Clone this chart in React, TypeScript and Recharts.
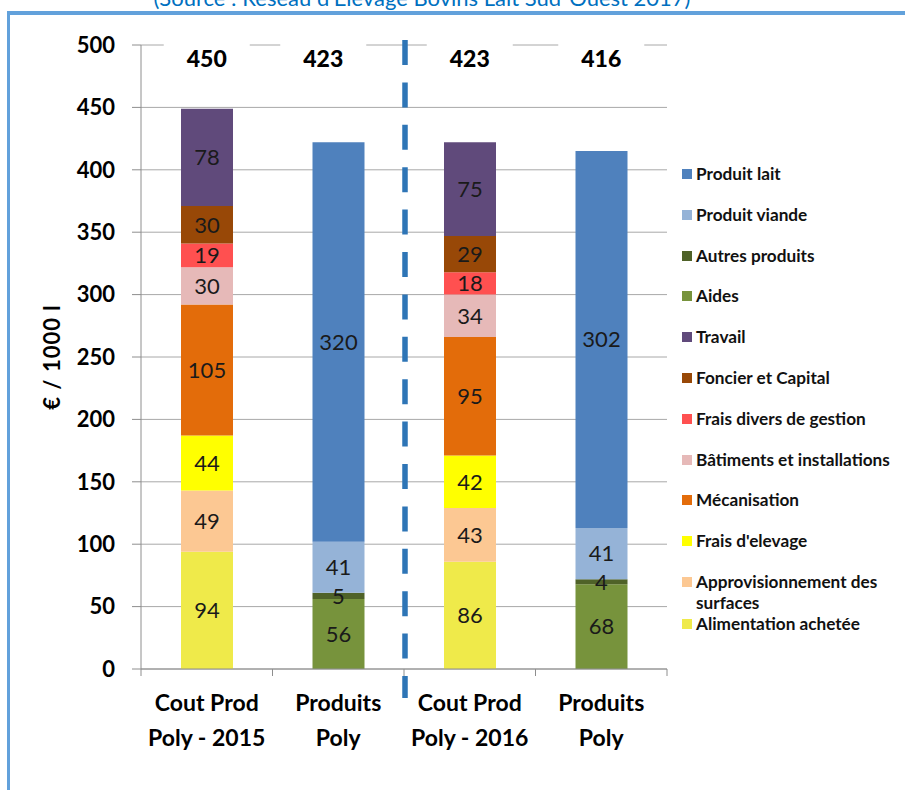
import React from "react";
import { BarChart, Bar, XAxis, YAxis, CartesianGrid, LabelList } from "recharts";

// ---------- data ----------
const categories = ["Cout Prod Poly - 2015", "Produits Poly 2015", "Cout Prod Poly - 2016", "Produits Poly 2016"];
const categoryLine1 = ["Cout Prod", "Produits", "Cout Prod", "Produits"];
const categoryLine2 = ["Poly - 2015", "Poly", "Poly - 2016", "Poly"];
const totals = [450, 423, 423, 416];
const yTicks = [0, 50, 100, 150, 200, 250, 300, 350, 400, 450, 500];

const alimentation = [94, null, 86, null];
const approvisionnement = [49, null, 43, null];
const fraisElevage = [44, null, 42, null];
const mecanisation = [105, null, 95, null];
const batiments = [30, null, 34, null];
const fraisDivers = [19, null, 18, null];
const foncier = [30, null, 29, null];
const travail = [78, null, 75, null];
const aides = [null, 56, null, 68];
const autresProduits = [null, 5, null, 4];
const produitViande = [null, 41, null, 41];
const produitLait = [null, 320, null, 302];

// stacking order, bottom to top
const series = [
  { key: "alimentation", name: "Alimentation achetée", color: "#EFEA4A", values: alimentation },
  { key: "approvisionnement", name: "Approvisionnement des surfaces", color: "#FCC893", values: approvisionnement },
  { key: "fraisElevage", name: "Frais d'elevage", color: "#FFFF00", values: fraisElevage },
  { key: "mecanisation", name: "Mécanisation", color: "#E36C0A", values: mecanisation },
  { key: "batiments", name: "Bâtiments et installations", color: "#E6B9B8", values: batiments },
  { key: "fraisDivers", name: "Frais divers de gestion", color: "#FF5050", values: fraisDivers },
  { key: "foncier", name: "Foncier et Capital", color: "#984807", values: foncier },
  { key: "travail", name: "Travail", color: "#604A7B", values: travail },
  { key: "aides", name: "Aides", color: "#77933C", values: aides },
  { key: "autresProduits", name: "Autres produits", color: "#4F6228", values: autresProduits },
  { key: "produitViande", name: "Produit viande", color: "#95B3D7", values: produitViande },
  { key: "produitLait", name: "Produit lait", color: "#4F81BD", values: produitLait },
];

const legendOrder = [
  "produitLait", "produitViande", "autresProduits", "aides", "travail", "foncier",
  "fraisDivers", "batiments", "mecanisation", "fraisElevage", "approvisionnement", "alimentation",
];

const chartData = categories.map((c, i) => {
  const row: Record<string, any> = { cat: c, total: totals[i] };
  series.forEach((s) => { row[s.key] = s.values[i]; });
  return row;
});

// ---------- layout ----------
const W = 905;
const H = 790;
const PLOT_LEFT = 141;
const PLOT_RIGHT = 667;
const PLOT_TOP = 45;
const PLOT_BOTTOM = 669;
const TOP_AXIS_H = 30;
const PLOT_W = PLOT_RIGHT - PLOT_LEFT;
const BAND = PLOT_W / categories.length;
const FONT = "Lato, 'Open Sans', sans-serif";
const AXIS = "#8E8E8E";
const GRID = "#A8A8A8";

const BottomTick = (props: any) => {
  const { x, y, payload } = props;
  const i = payload.index;
  const left = x - BAND / 2;
  return (
    <g>
      <line x1={left} x2={left} y1={y} y2={y + 7} stroke={AXIS} strokeWidth={1} />
      {i === categories.length - 1 && (
        <line x1={x + BAND / 2} x2={x + BAND / 2} y1={y} y2={y + 7} stroke={AXIS} strokeWidth={1} />
      )}
      <text x={x} y={y} textAnchor="middle" fontFamily={FONT} fontWeight={700} fontSize={23} fill="#000">
        <tspan x={x} dy={42}>{categoryLine1[i]}</tspan>
        <tspan x={x} dy={35}>{categoryLine2[i]}</tspan>
      </text>
    </g>
  );
};

const TopTick = (props: any) => {
  const { x, payload } = props;
  const i = payload.index;
  const base = PLOT_TOP;
  const cx = x + (i === 1 ? -15 : 0);
  return (
    <g>
      <rect x={cx - 43} y={base - 3} width={86} height={32} fill="#fff" />
      <text x={cx} y={base + 14} dy="0.36em" textAnchor="middle" fontFamily={FONT} fontWeight={900} fontSize={23} fill="#000">
        {totals[i]}
      </text>
    </g>
  );
};

const YLabel = (props: any) => {
  const vb = props.viewBox || { x: 0, y: PLOT_TOP, width: PLOT_LEFT, height: PLOT_BOTTOM - PLOT_TOP };
  const cx = vb.x + 52;
  const cy = vb.y + vb.height / 2;
  return (
    <text
      x={cx}
      y={cy}
      dy="0.36em"
      transform={`rotate(-90 ${cx} ${cy})`}
      textAnchor="middle"
      fontFamily={FONT}
      fontWeight={700}
      fontSize={22}
      letterSpacing={1}
      fill="#000"
    >
      € / 1000 l
    </text>
  );
};

const makeLabel = (props: any) => {
  const { x, y, width, height, value } = props;
  if (value === null || value === undefined) return null;
  return (
    <text
      x={x + width / 2}
      y={y + height / 2}
      dy="0.36em"
      textAnchor="middle"
      fontFamily={FONT}
      fontSize={22}
      fill="#1A1A1A"
    >
      {value}
    </text>
  );
};

const LegendBox = () => {
  const byKey: Record<string, any> = {};
  series.forEach((s) => { byKey[s.key] = s; });
  return (
    <div style={{ position: "absolute", left: 0, top: 0, width: W, height: H, pointerEvents: "none" }}>
      {legendOrder.map((k, i) => {
        const s = byKey[k];
        const cy = 174 + i * 40.8 + (k === "alimentation" ? 1 : 0);
        const lines = k === "approvisionnement" ? ["Approvisionnement des", "surfaces"] : [s.name];
        return (
          <div key={k}>
            <div style={{ position: "absolute", left: 682, top: cy - 5, width: 10, height: 10, background: s.color }} />
            {lines.map((l, j) => (
              <div
                key={j}
                style={{
                  position: "absolute",
                  left: 696,
                  top: cy - 9 + j * 21,
                  fontFamily: FONT,
                  fontWeight: 700,
                  fontSize: 17.2,
                  lineHeight: "18px",
                  height: 18,
                  color: "#111",
                  whiteSpace: "nowrap",
                }}
              >
                {l}
              </div>
            ))}
          </div>
        );
      })}
    </div>
  );
};

export default function App() {
  return (
    <div style={{ position: "absolute", left: 0, top: 0, width: W, height: H, overflow: "hidden", background: "#fff" }}>
      <div
        style={{
          position: "absolute",
          left: 7,
          top: 11,
          width: 1200,
          height: 1200,
          borderTop: "4px solid #62A1DB",
          borderLeft: "3px solid #62A1DB",
        }}
      />
      <svg style={{ position: "absolute", left: 0, top: 0 }} width={W} height={30}>
        <text x={422} y={6} textAnchor="middle" fontFamily={FONT} fontSize={22} fill="#0070C0">
          (Source : Réseau d'Elevage Bovins Lait Sud-Ouest 2017)
        </text>
      </svg>
      <div style={{ position: "absolute", left: 0, top: 0 }}>
        <BarChart
          width={W}
          height={H}
          data={chartData}
          margin={{ top: PLOT_TOP - TOP_AXIS_H, right: W - PLOT_RIGHT, bottom: 0, left: 0 }}
          barSize={52}
          style={{ fontFamily: FONT }}
        >
          <CartesianGrid horizontal vertical={false} stroke={GRID} strokeWidth={1} />
          <XAxis
            dataKey="cat"
            xAxisId={0}
            height={H - PLOT_BOTTOM}
            axisLine={{ stroke: AXIS }}
            tickLine={false}
            tickSize={0}
            tickMargin={0}
            interval={0}
            tick={<BottomTick />}
          />
          <YAxis
            width={PLOT_LEFT}
            domain={[0, 500]}
            ticks={yTicks}
            interval={0}
            axisLine={{ stroke: AXIS }}
            tickLine={{ stroke: AXIS }}
            tickSize={9}
            tickMargin={17}
            tick={{ fontFamily: FONT, fontWeight: 700, fontSize: 22, fill: "#000" }}
            label={<YLabel />}
          />
          {series.map((s) => (
            <Bar key={s.key} dataKey={s.key} name={s.name} stackId="a" fill={s.color} isAnimationActive={false}>
              <LabelList dataKey={s.key} content={makeLabel} />
            </Bar>
          ))}
          <XAxis
            dataKey="cat"
            xAxisId="top"
            orientation="top"
            height={TOP_AXIS_H}
            axisLine={false}
            tickLine={false}
            tickSize={0}
            tickMargin={0}
            interval={0}
            tick={<TopTick />}
          />
        </BarChart>
      </div>
      <svg style={{ position: "absolute", left: 0, top: 0, pointerEvents: "none" }} width={W} height={H}>
        <line
          x1={PLOT_LEFT + PLOT_W / 2 + 1}
          x2={PLOT_LEFT + PLOT_W / 2 + 1}
          y1={40}
          y2={698}
          stroke="#2E75B6"
          strokeWidth={5.5}
          strokeDasharray="25 17.4"
        />
      </svg>
      <LegendBox />
    </div>
  );
}
